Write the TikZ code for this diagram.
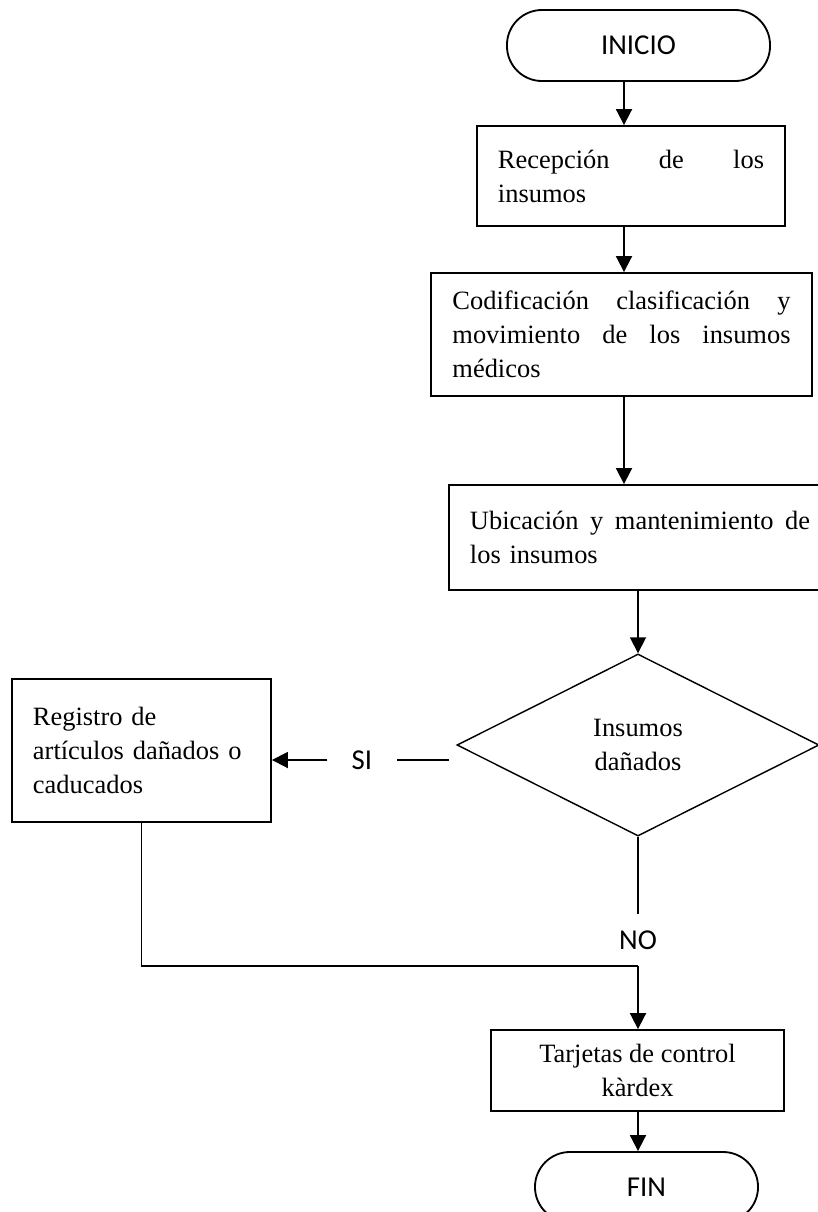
\documentclass[tikz,border=0pt]{standalone}
\usepackage{fontspec}
\setmainfont{Liberation Serif}
\newfontfamily\calibri{Carlito}
\usepackage{tikz}
\usetikzlibrary{shapes.geometric, arrows.meta}

\newcommand{\cuerpo}{\fontsize{18.8}{24.2}\selectfont}
\newcommand{\rotulo}{\calibri\fontsize{20.5}{24}\selectfont}

\tikzset{
  proceso/.style={draw, line width=1.3pt, align=left, inner sep=0pt, font=\cuerpo},
  terminal/.style={draw, line width=1.3pt, rounded corners=0.875cm, inner sep=0pt, font=\rotulo},
  decision/.style={draw, diamond, line width=1pt, align=center, inner sep=0pt, font=\cuerpo},
  flecha/.style={line width=1.3pt, -{Triangle[length=0.4cm, width=0.4cm]}},
  linea/.style={line width=1.3pt},
}

\begin{document}
\begin{tikzpicture}[x=0.025cm, y=-0.025cm]
    \useasboundingbox (0,0) rectangle (817,1212);

    % Steps of the flow
    \node[terminal, minimum width=6.575cm, minimum height=1.775cm] (inicio) at (638.5,45.5) {INICIO};
    \node[proceso, minimum width=7.7cm, minimum height=2.5cm, text width=6.65cm] (recepcion) at (631,176)
        {Recepción\hfill de\hfill los\\insumos};
    \node[proceso, minimum width=9.525cm, minimum height=3.075cm, text width=8.45cm] (codificacion) at (621.5,334.5)
        {Codificación\hfill clasificación\hfill y\\movimiento\hfill de\hfill los\hfill insumos\\médicos};
    \node[proceso, minimum width=9.55cm, minimum height=2.625cm, text width=8.5cm] (ubicacion) at (640,537.5)
        {Ubicación\hfill y\hfill mantenimiento\hfill de\\los insumos};
    \node[decision, minimum width=9.05cm, minimum height=4.55cm] (danados) at (638,745) {Insumos\\dañados};
    \node[proceso, minimum width=6.475cm, minimum height=3.575cm, text width=5.425cm] (registro) at (141.5,750.5)
        {Registro de\\artículos dañados o\\caducados};
    \node[proceso, align=center, minimum width=7.325cm, minimum height=2.025cm] (tarjetas) at (637.5,1070.5)
        {Tarjetas de control\\kàrdex};
    \node[terminal, minimum width=5.575cm, minimum height=1.75cm] (fin) at (646.5,1187) {FIN};

    % Branch labels
    \node[font=\rotulo, inner xsep=0.6cm, inner ysep=0pt] (si) at (362,760) {SI};
    \node[font=\rotulo, inner xsep=0pt, inner ysep=0.4cm] (no) at (638,940) {NO};

    % Connectors
    \coordinate (eje) at (624,0);
    \coordinate (siA) at (449,760);
    \draw[flecha] (inicio.south -| eje) -- (recepcion.north -| eje);
    \draw[flecha] (recepcion.south -| eje) -- (codificacion.north -| eje);
    \draw[flecha] (codificacion.south -| eje) -- (ubicacion.north -| eje);
    \draw[flecha] (ubicacion.south -| danados.north) -- (danados.north);
    \draw[linea] (siA) -- (si.east);
    \draw[flecha] (si.west) -- (registro.east |- si.west);
    \draw[linea] (danados.south) -- (no.north);
    \draw[flecha] (no.south) -- (no.south |- tarjetas.north);
    \draw[linea] (registro.south) |- (no.south);
    \draw[flecha] (tarjetas.south -| danados.south) -- (fin.north -| danados.south);
\end{tikzpicture}
\end{document}
